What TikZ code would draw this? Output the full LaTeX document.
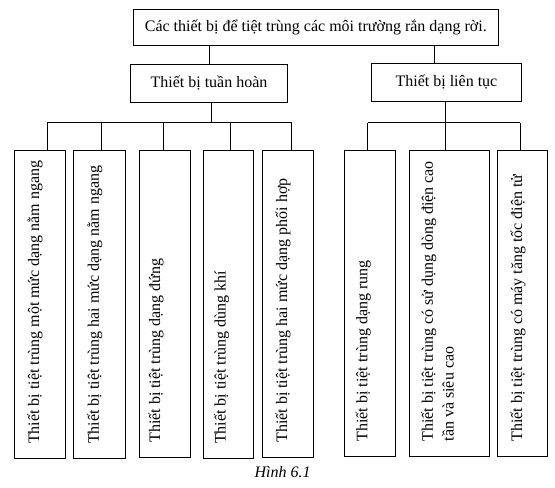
\documentclass[tikz,border=0pt]{standalone}
\usepackage{fontspec}
\setmainfont{Liberation Serif}
\usepackage{tikz}
\usetikzlibrary{positioning}

\tikzset{
  hop/.style={draw, rectangle, inner sep=0pt},
  chu/.style={rotate=90, anchor=north west, align=left, inner sep=0pt},
}

\begin{document}
\begin{tikzpicture}[x=0.75pt, y=-0.75pt, line width=0.75pt, font=\fontsize{12}{15.5}\selectfont]
\useasboundingbox (0,0) rectangle (555,487);

\node[hop, minimum width=273.75pt, minimum height=27.4pt] (top) at (315.8,27.7) {Các thiết bị để tiệt trùng các môi trường rắn dạng rời.};
\node[hop, minimum width=117.5pt, minimum height=28.5pt] (th) at (209,83.3) {Thiết bị tuần hoàn};
\node[hop, minimum width=113pt, minimum height=28.5pt] (lt) at (446.4,82.3) {Thiết bị liên tục};

\coordinate (c1) at (434.3,0);
\draw (top.south -| th.north) -- (th.north);
\draw (top.south -| c1) -- (lt.north -| c1);

% nhánh tuần hoàn
\node[hop, minimum width=38.25pt, minimum height=231pt] (b1) at (39.8,304.5) {};
\node[hop, minimum width=38.8pt, minimum height=231pt] (b2) at (99.85,304.5) {};
\node[hop, minimum width=38.25pt, minimum height=230pt] (b3) at (164.8,304) {};
\node[hop, minimum width=37.5pt, minimum height=231pt] (b4) at (228.3,304.5) {};
\node[hop, minimum width=38.25pt, minimum height=230pt] (b5) at (287.8,304) {};

\node[chu] (t1) at ([xshift=10pt,yshift=11pt]b1.south west) {Thiết bị tiệt trùng một mức dạng nằm ngang};
\node[chu] (t2) at ([xshift=10pt,yshift=11pt]b2.south west) {Thiết bị tiệt trùng hai mức dạng nằm ngang};
\node[chu] (t3) at ([xshift=7pt,yshift=11pt]b3.south west) {Thiết bị tiệt trùng dạng đứng};
\node[chu] (t4) at ([xshift=8pt,yshift=11pt]b4.south west) {Thiết bị tiệt trùng dùng khí};
\node[chu] (t5) at ([xshift=10pt,yshift=11pt]b5.south west) {Thiết bị tiệt trùng hai mức dạng phối hợp};

\coordinate (n1) at (211.7,122.5);
\coordinate (d1) at (47.3,122.5);
\coordinate (d2) at (101.3,122.5);
\coordinate (d3) at (163.3,122.5);
\coordinate (d4) at (230,122.5);
\coordinate (d5) at (291.7,122.5);
\draw (th.south -| n1) -- (n1);
\draw (d1) -- (d5);
\draw (d1) -- (d1 |- b1.north);
\draw (d2) -- (d2 |- b2.north);
\draw (d3) -- (d3 |- b3.north);
\draw (d4) -- (d4 |- b4.north);
\draw (d5) -- (d5 |- b5.north);

% nhánh liên tục
\node[hop, minimum width=38.4pt, minimum height=229.1pt] (b6) at (370.1,303.25) {};
\node[hop, minimum width=60pt, minimum height=229.1pt] (b7) at (449.3,303.25) {};
\node[hop, minimum width=37.5pt, minimum height=229.1pt] (b8) at (522.3,303.25) {};

\node[chu] (t6) at ([xshift=8.5pt,yshift=11pt]b6.south west) {Thiết bị tiệt trùng dạng rung};
\node[chu] (t7) at ([xshift=9pt,yshift=11pt]b7.south west) {Thiết bị tiệt trùng có sử dụng dòng điện cao\\tần và siêu cao};
\node[chu] (t8) at ([xshift=10pt,yshift=11pt]b8.south west) {Thiết bị tiệt trùng có máy tăng tốc điện tử};

\coordinate (n2) at (445.7,122.5);
\coordinate (d6) at (367.7,122.5);
\coordinate (d7) at (445.7,122.5);
\coordinate (d8) at (520,122.5);
\draw (lt.south -| n2) -- (n2);
\draw (d6) -- (d8);
\draw (d6) -- (d6 |- b6.north);
\draw (d7) -- (d7 |- b7.north);
\draw (d8) -- (d8 |- b8.north);

\node[font=\fontsize{12}{14}\itshape] (hinh) at (282.5,472) {Hình 6.1};
\end{tikzpicture}
\end{document}
